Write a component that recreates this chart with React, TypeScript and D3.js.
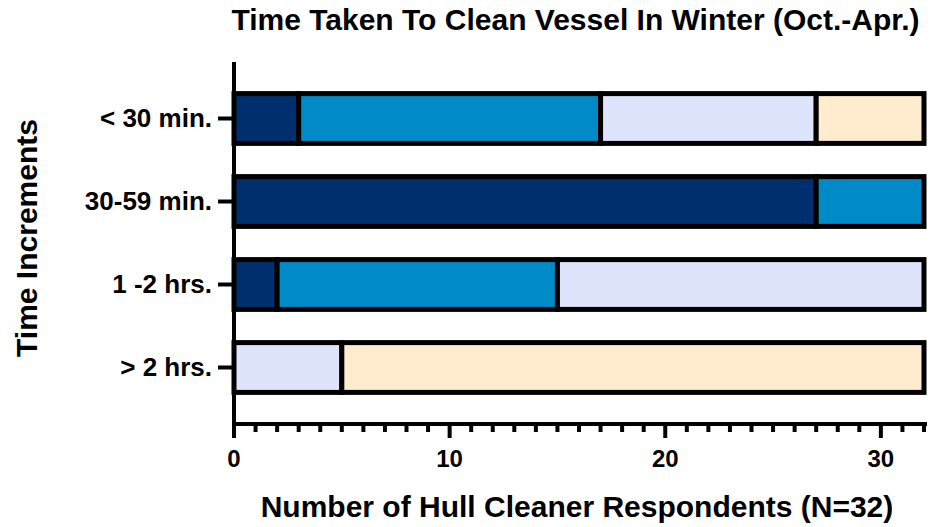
import { useRef, useEffect } from 'react';
import * as d3 from 'd3';

const WIDTH = 930;
const HEIGHT = 527;

const categories = ['< 30 min.', '30-59 min.', '1 -2 hrs.', '> 2 hrs.'];
// four stacked groups per bar
const seriesA = [3, 27, 2, 0];
const seriesB = [14, 5, 13, 0];
const seriesC = [10, 0, 17, 5];
const seriesD = [5, 0, 0, 27];
const colors = ['#002F6E', '#008AC8', '#DDE4FB', '#FFECCE'];
const xTicks = [0, 10, 20, 30];

export default function App() {
  const svgRef = useRef<SVGSVGElement>(null);

  useEffect(() => {
    const svg = d3.select(svgRef.current);
    svg.selectAll('*').remove();

    const x = d3.scaleLinear().domain([0, 32]).range([234, 924]);
    const y = d3.scaleBand().domain(categories).range([77, 409]).paddingInner(0.4).paddingOuter(0.2);
    const axisTop = 62;
    const axisBottom = 424;
    const font = '"Liberation Sans", Arial, sans-serif';

    const rows = categories.map((c, i) => ({ c, vals: [seriesA[i], seriesB[i], seriesC[i], seriesD[i]] }));
    const segs: { c: string; x0: number; x1: number; color: string }[] = [];
    rows.forEach(r => {
      let acc = 0;
      r.vals.forEach((v, k) => {
        if (v > 0) segs.push({ c: r.c, x0: acc, x1: acc + v, color: colors[k] });
        acc += v;
      });
    });

    svg.append('g').selectAll('rect').data(segs).enter().append('rect')
      .attr('x', d => x(d.x0))
      .attr('y', d => y(d.c)!)
      .attr('width', d => x(d.x1) - x(d.x0))
      .attr('height', y.bandwidth())
      .attr('fill', d => d.color)
      .attr('stroke', '#000')
      .attr('stroke-width', 5);

    // y axis
    svg.append('line').attr('x1', 234).attr('x2', 234).attr('y1', axisTop).attr('y2', axisBottom + 14)
      .attr('stroke', '#000').attr('stroke-width', 4);
    categories.forEach(c => {
      const cy = y(c)! + y.bandwidth() / 2;
      svg.append('line').attr('x1', 218).attr('x2', 234).attr('y1', cy).attr('y2', cy)
        .attr('stroke', '#000').attr('stroke-width', 4);
      svg.append('text').attr('x', 212).attr('y', cy + 8)
        .attr('text-anchor', 'end').attr('font-family', font).attr('font-weight', 'bold')
        .attr('font-size', 26).text(c);
    });

    // x axis
    svg.append('line').attr('x1', 232).attr('x2', 927).attr('y1', axisBottom).attr('y2', axisBottom)
      .attr('stroke', '#000').attr('stroke-width', 4);
    d3.range(1, 33).forEach(t => {
      const major = t % 10 === 0;
      svg.append('line').attr('x1', x(t)).attr('x2', x(t)).attr('y1', axisBottom)
        .attr('y2', axisBottom + (major ? 14 : 8))
        .attr('stroke', '#000').attr('stroke-width', 4);
    });
    xTicks.forEach(t => {
      svg.append('text').attr('x', x(t)).attr('y', 467).attr('text-anchor', 'middle')
        .attr('font-family', font).attr('font-weight', 'bold').attr('font-size', 24).text(t);
    });

    svg.append('text').attr('x', 575.5).attr('y', 30).attr('text-anchor', 'middle')
      .attr('font-family', font).attr('font-weight', 'bold').attr('font-size', 30)
      .text('Time Taken To Clean Vessel In Winter (Oct.-Apr.)');
    svg.append('text').attr('x', 577).attr('y', 517).attr('text-anchor', 'middle')
      .attr('font-family', font).attr('font-weight', 'bold').attr('font-size', 30)
      .text('Number of Hull Cleaner Respondents (N=32)');
    svg.append('text').attr('transform', 'translate(37,238) rotate(-90)').attr('text-anchor', 'middle')
      .attr('font-family', font).attr('font-weight', 'bold').attr('font-size', 30)
      .text('Time Increments');
  }, []);

  return (
    <svg ref={svgRef} width={WIDTH} height={HEIGHT}
      style={{ position: 'absolute', left: 0, top: 0, background: '#fff' }} />
  );
}
